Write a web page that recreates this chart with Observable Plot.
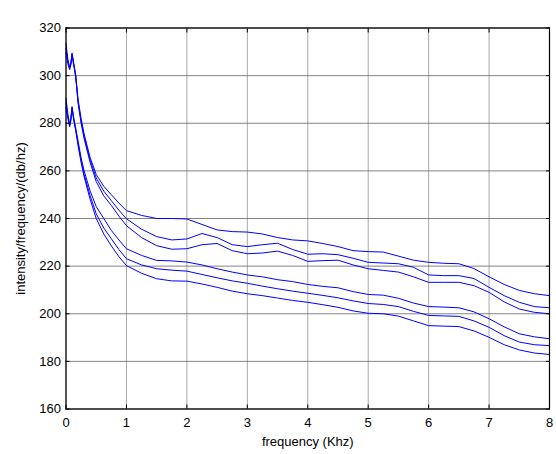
<!DOCTYPE html>
<html>
<head>
<meta charset="utf-8">
<script src="https://cdn.jsdelivr.net/npm/d3@7"></script>
<script src="https://cdn.jsdelivr.net/npm/@observablehq/plot@0.6"></script>
<style>
  body { margin: 0; background: #fff; }
  #wrap { position: relative; width: 556px; height: 454px; font-family: "Liberation Sans", Arial, sans-serif; }
  #title { position: absolute; top: 4px; left: 247px; width: 94px; text-align: center; font-size: 12px; color: #000; white-space: nowrap; }
  #wrap svg { position: absolute; left: 0; top: 0; }
</style>
</head>
<body>
<div id="wrap"><div id="title">source spectrum</div></div>
<script>
const titleText = "source spectrum";
const xLabel = "frequency (Khz)";
const yLabel = "intensity/frequency/(db/hz)";
const xTicks = [0, 1, 2, 3, 4, 5, 6, 7, 8];
const yTicks = [160, 180, 200, 220, 240, 260, 280, 300, 320];

const freq = [0, 0.03, 0.06, 0.08, 0.1, 0.13, 0.16, 0.2, 0.25, 0.3, 0.4, 0.5, 0.625, 0.75, 0.875,
  1, 1.25, 1.5, 1.75, 2, 2.25, 2.5, 2.75, 3, 3.25, 3.5, 3.75, 4, 4.25, 4.5, 4.75, 5, 5.25, 5.5, 5.75,
  6, 6.25, 6.5, 6.75, 7, 7.25, 7.5, 7.75, 8, 8];

const curveA = [313.5, 307, 303.5, 305, 309.5, 305, 300.5, 290, 282, 275.5, 265.5, 258.5, 253.5, 250, 246.5,
  243.3, 241.3, 240, 240, 239.8, 237.5, 235.2, 234.5, 234.3, 233.5, 232, 231, 230.6, 229.5, 228.2, 226.5, 226.1, 225.9, 224.2, 222.5,
  221.6, 221.2, 221, 219, 215.5, 212.3, 209.8, 208.4, 207.6, 204.5];
const curveB = [311.5, 306, 303, 305, 309, 304.5, 300, 289, 281, 274.5, 264.5, 257, 251.5, 247.5, 243.5,
  239.9, 235.5, 232.4, 231, 231.4, 233.7, 232, 229, 228.2, 229, 229.6, 227, 225, 225.2, 224.8, 223.3, 221.6, 221.3, 221, 219.5,
  216.3, 216, 216, 214.8, 211.1, 207.6, 204.8, 203, 202.5, 199.5];
const curveC = [309.5, 305, 302.5, 304.5, 308.5, 304, 299.5, 288.5, 280, 273.5, 263.5, 255.5, 249.5, 245.5, 241,
  237, 232, 228.6, 227.1, 227.3, 229, 229.5, 226.5, 225.2, 225.5, 226.3, 224.5, 222, 222.3, 222.5, 220.5, 218.9, 218.2, 217.5, 215.5,
  213.2, 213.2, 213.2, 211.8, 209, 205, 202, 200.6, 200, 197];
const curveD = [290.5, 284, 279.5, 282, 287, 282, 278, 272.5, 265.5, 260, 251.5, 245, 240, 235, 231,
  227.3, 224.5, 222.4, 222.2, 221.7, 220.5, 218.9, 217.5, 216.3, 215.5, 214.3, 213.5, 212.3, 211.5, 210.9, 209.3, 208.1, 207.8, 206.5, 204.5,
  203, 202.8, 202.5, 200.8, 197.9, 194.5, 191.6, 190.3, 189.5, 186];
const curveE = [288.5, 283, 279, 281.5, 286.5, 281.5, 277.5, 271.5, 264.5, 258.5, 249.5, 242, 236, 231.5, 227,
  223.1, 220.5, 218.9, 218.3, 217.9, 216.5, 215.1, 213.8, 212.8, 211.6, 210.5, 209.5, 208.6, 207.7, 206.7, 205.4, 204.3, 203.9, 203, 201,
  199.3, 199.1, 198.9, 197, 194.3, 190.8, 188.1, 187, 186.6, 183];
const curveF = [286.5, 282, 278.5, 281, 286, 281, 277, 270.5, 263.5, 257.5, 248, 240, 233.5, 228.5, 224,
  220.2, 217, 214.7, 213.8, 213.7, 212.5, 211.1, 209.5, 208.4, 207.6, 206.6, 205.6, 204.8, 203.8, 202.7, 201.2, 200.2, 200, 199, 197,
  195, 194.8, 194.6, 192.8, 190.1, 187, 184.8, 183.5, 182.9, 180];

const seriesNames = ["A", "B", "C", "D", "E", "F"];
const seriesValues = [curveA, curveB, curveC, curveD, curveE, curveF];
const rows = [];
seriesValues.forEach((vals, si) => {
  vals.forEach((v, i) => rows.push({s: seriesNames[si], f: freq[i], v}));
});

const blank = () => "";
const chart = Plot.plot({
  width: 556,
  height: 454,
  marginLeft: 65.5,
  marginRight: 7,
  marginTop: 27.5,
  marginBottom: 45.5,
  style: {fontFamily: "'Liberation Sans', Arial, sans-serif", fontSize: "13px", background: "white", color: "black"},
  x: {domain: [0, 8]},
  y: {domain: [160, 320]},
  marks: [
    Plot.gridX(xTicks, {stroke: "#999999", strokeOpacity: 0.85, strokeWidth: 1}),
    Plot.gridY(yTicks, {stroke: "#707070", strokeOpacity: 0.85, strokeWidth: 1}),
    Plot.line(rows, {x: "f", y: "v", z: "s", stroke: "#0000ff", strokeWidth: 1}),
    Plot.frame({stroke: "black", strokeWidth: 1.2}),
    Plot.axisX(xTicks, {anchor: "bottom", tickSize: 0, tickPadding: 9, label: xLabel, labelAnchor: "center", labelOffset: 37, labelArrow: "none", fill: "black"}),
    Plot.axisX(xTicks, {anchor: "bottom", tickSize: 4, dy: -4, tickFormat: blank, label: null, stroke: "black"}),
    Plot.axisX(xTicks, {anchor: "top", tickSize: 4, dy: 4, tickFormat: blank, label: null, stroke: "black"}),
    Plot.axisY(yTicks, {anchor: "left", tickSize: 0, tickPadding: 5, label: yLabel, labelAnchor: "center", labelOffset: 50, labelArrow: "none", fill: "black"}),
    Plot.axisY(yTicks, {anchor: "left", tickSize: 4, dx: 4, tickFormat: blank, label: null, stroke: "black"}),
    Plot.axisY(yTicks, {anchor: "right", tickSize: 4, dx: -4, tickFormat: blank, label: null, stroke: "black"})
  ]
});
document.getElementById("wrap").appendChild(chart);
document.getElementById("title").textContent = titleText;
</script>
</body>
</html>
